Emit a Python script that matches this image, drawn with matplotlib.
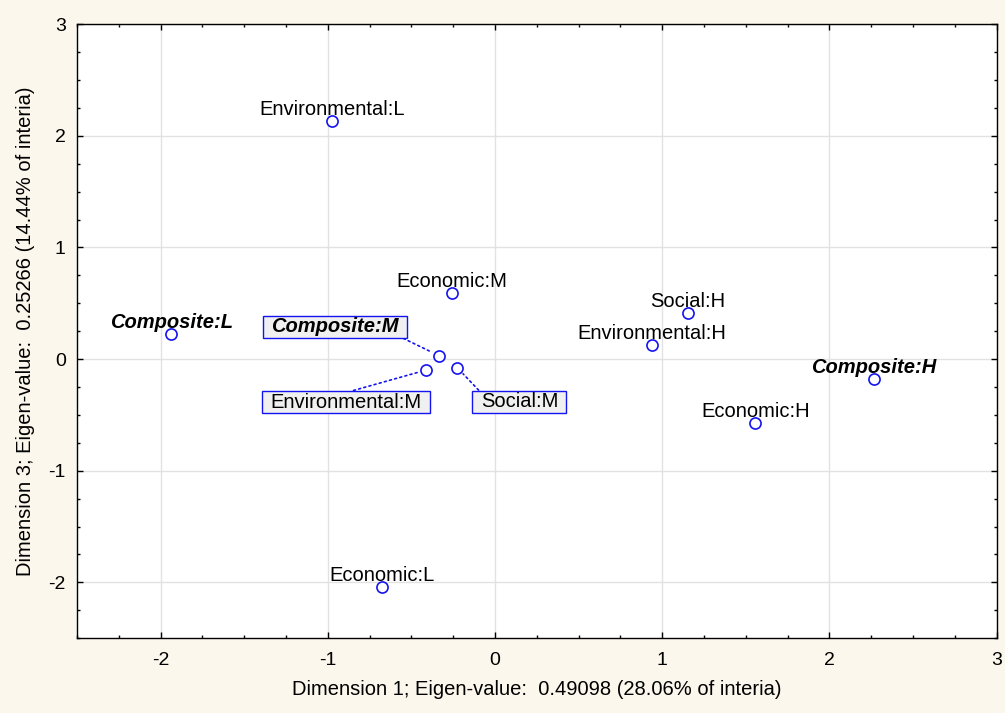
import matplotlib.pyplot as plt
from matplotlib.ticker import MultipleLocator

plt.rcParams['font.family'] = ['Liberation Sans', 'DejaVu Sans']
plt.rcParams['axes.unicode_minus'] = False

# category points (dimension 1 vs dimension 3)
labels = ['Economic:L', 'Economic:M', 'Economic:H',
          'Environmental:L', 'Environmental:M', 'Environmental:H',
          'Social:M', 'Social:H',
          'Composite:L', 'Composite:M', 'Composite:H']
dim1 = [-0.675, -0.257, 1.558, -0.973, -0.414, 0.937, -0.225, 1.152, -1.937, -0.334, 2.267]
dim3 = [-2.04, 0.59, -0.573, 2.13, -0.099, 0.125, -0.078, 0.41, 0.224, 0.03, -0.18]

xlabel = 'Dimension 1; Eigen-value:  0.49098 (28.06% of interia)'
ylabel = 'Dimension 3; Eigen-value:  0.25266 (14.44% of interia)'

blue = '#1414f0'

fig = plt.figure(figsize=(10.05, 7.13), dpi=100, facecolor='#fcf7ec')
ax = fig.add_axes([0.0766, 0.105, 0.915, 0.861])
ax.set_facecolor('white')

ax.plot(dim1, dim3, linestyle='none', marker='o', markersize=8,
        markerfacecolor='white', markeredgecolor=blue, markeredgewidth=1.2, zorder=3)

# labels pulled out into boxes with a dotted leader line
boxed = {'Composite:M': ((-104, 29), (1, 0)),
         'Environmental:M': ((-80, -32), (0.5, 1)),
         'Social:M': ((62, -34), (0, 1))}

for name, x, y in zip(labels, dim1, dim3):
    style = dict(fontsize=14.5, ha='center')
    if name.startswith('Composite'):
        style.update(fontweight='bold', fontstyle='italic')
    if name in boxed:
        off, rel = boxed[name]
        ax.annotate(name, (x, y), xytext=off, textcoords='offset pixels',
                    va='center', zorder=4,
                    bbox=dict(boxstyle='square,pad=0.42', mutation_aspect=0.2,
                              fc='#f0f0f0', ec=blue, lw=1),
                    arrowprops=dict(arrowstyle='-', color=blue, lw=1.2,
                                    linestyle=(0, (1.2, 2)), shrinkA=0, shrinkB=6,
                                    relpos=rel),
                    **style)
    else:
        ax.annotate(name, (x, y), xytext=(0, 6), textcoords='offset pixels',
                    va='baseline', zorder=4, **style)

ax.set_xlim(-2.5, 3)
ax.set_ylim(-2.5, 3)
ax.xaxis.set_major_locator(MultipleLocator(1))
ax.yaxis.set_major_locator(MultipleLocator(1))
ax.xaxis.set_minor_locator(MultipleLocator(0.25))
ax.yaxis.set_minor_locator(MultipleLocator(0.25))
ax.grid(True, which='major', color='#e2e2e2', lw=1)
ax.set_axisbelow(True)

ax.tick_params(which='both', direction='in', top=True, right=True, labelsize=14)
ax.tick_params(which='major', length=4.5, width=1)
ax.tick_params(which='minor', length=2.5, width=1)
ax.tick_params(axis='x', pad=10)
ax.tick_params(axis='y', pad=8)
for s in ax.spines.values():
    s.set_color('black')
    s.set_linewidth(1)

ax.set_xlabel(xlabel, fontsize=14.5, labelpad=8)
ax.set_ylabel(ylabel, fontsize=14.5, labelpad=10)

fig.savefig('out.png', dpi=100, facecolor=fig.get_facecolor())
